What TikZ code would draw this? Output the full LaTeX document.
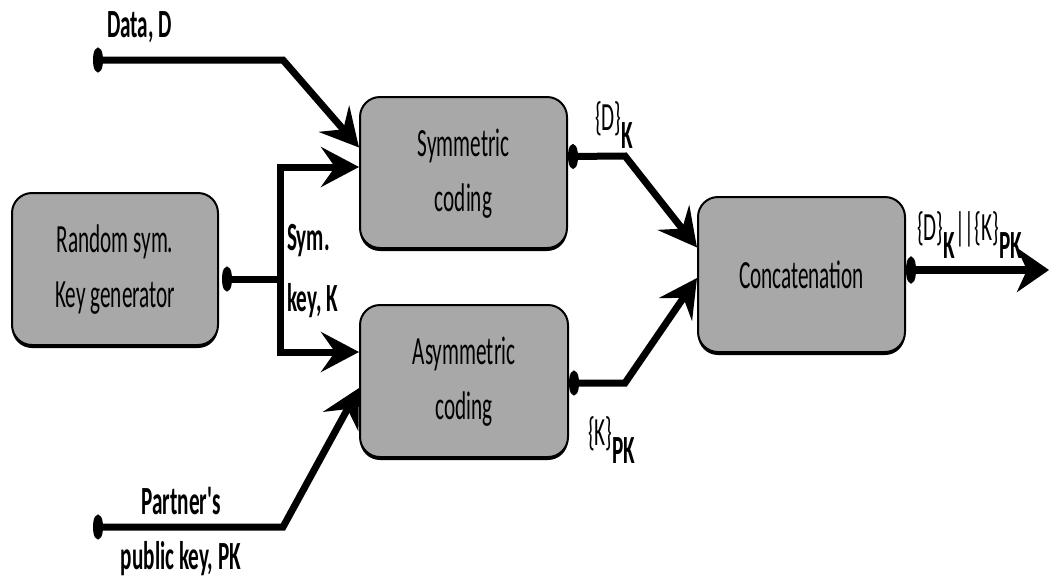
\documentclass[tikz,border=0pt]{standalone}
\usepackage{fontspec}
\setmainfont{Carlito}
\usepackage{graphicx}
\usetikzlibrary{arrows.meta,shadows}
\definecolor{boxgray}{HTML}{A8A8A8}
\newcommand\sq[1]{\scalebox{0.53}[1]{#1}}
\newcommand\bigfont{\fontsize{40}{55}\selectfont}
\newcommand\lowr[1]{\raisebox{-18pt}{#1}}
\begin{document}
\begin{tikzpicture}[x=1pt,y=-1pt,
  box/.style={draw=black, line width=2pt, fill=boxgray, rounded corners=20pt,
    drop shadow={shadow xshift=0pt,shadow yshift=-3pt,fill=black,opacity=1},
    inner sep=0pt, font=\bigfont},
  lbl/.style={font=\bigfont\bfseries, inner sep=0pt},
  conn/.style={line width=7pt, arrows={Circle[length=10pt,width=24pt]-Stealth[length=38pt,width=40pt,inset=14pt]}},
  dotline/.style={line width=7pt, arrows={Circle[length=10pt,width=24pt]-}},
  arrline/.style={line width=7pt, arrows={-Stealth[length=38pt,width=40pt,inset=14pt]}}
]
\useasboundingbox (0,0) rectangle (1049,579);

% boxes
\node[box, minimum width=206pt, minimum height=152pt] (rng) at (115,269)
  {\sq{\begin{tabular}{@{}c@{}}Random sym.\\Key generator\end{tabular}}};
\node[box, minimum width=207pt, minimum height=151pt] (sym) at (463.5,172.5)
  {\sq{\begin{tabular}{@{}c@{}}Symmetric\\coding\end{tabular}}};
\node[box, minimum width=208pt, minimum height=152pt] (asym) at (464,381)
  {\sq{\begin{tabular}{@{}c@{}}Asymmetric\\coding\end{tabular}}};
\node[box, minimum width=207pt, minimum height=155pt] (cat) at (801.5,274.5)
  {\sq{Concatenation}};

% free ends and bends
\coordinate (dstart) at (93,60);
\coordinate (dbend) at (283,60);
\coordinate (split) at (280,279);
\coordinate (pstart) at (93,527);
\coordinate (pbend) at (283,527);
\coordinate (sbend) at (625,156);
\coordinate (abend) at (625,383);
\coordinate (out) at (1049,270);

% connectors
\draw[conn] (dstart) -- (dbend) -- ([yshift=25pt]sym.west);
\draw[dotline] ([xshift=3pt,yshift=-10pt]rng.east) -- (split);
\draw[arrline] (split) |- ([yshift=5.5pt]sym.west);
\draw[arrline] (split) |- ([yshift=29pt]asym.west);
\draw[conn] (pstart) -- (pbend) -- ([yshift=-7pt]asym.west);
\draw[conn] ([yshift=16pt]sym.east) -- (sbend) -- ([yshift=27pt]cat.west);
\draw[conn] ([yshift=-2pt]asym.east) -- (abend) -- ([yshift=-3.5pt]cat.west);
\draw[conn, line width=8pt, arrows={Circle[length=10pt,width=26pt]-Stealth[length=32pt,width=44pt,inset=10pt]}]
  ([yshift=4.5pt]cat.east) -- (out);

% labels
\node[lbl, anchor=base west] (ldata) at (107,37) {\sq{Data, D}};
\node[lbl, anchor=west] (lkey) at (287,270)
  {\sq{\begin{tabular}{@{}l@{}}Sym.\\[6pt]key, K\end{tabular}}};
\node[lbl] (lpk) at (181,531)
  {\sq{\begin{tabular}{@{}c@{}}Partner\textquotesingle s\\public key, PK\end{tabular}}};
\node[lbl, anchor=base west] (ldk) at (595,130) {\sq{{\mdseries\{D\}}\lowr{K}}};
\node[lbl, anchor=base west] (lkpk) at (588,445) {\sq{{\mdseries\{K\}}\lowr{PK}}};
\node[lbl, anchor=base west] (lout) at (917,240)
  {\sq{{\mdseries\{D\}}\lowr{K}{\mdseries||\{K\}}\lowr{PK}}};
\end{tikzpicture}
\end{document}
